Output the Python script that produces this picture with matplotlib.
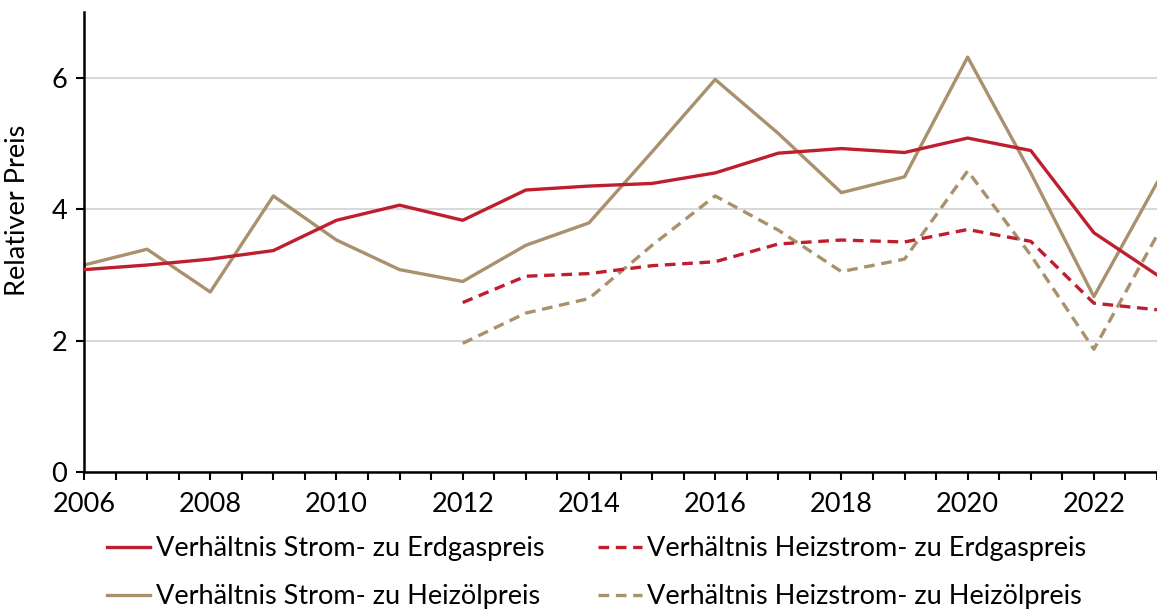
import numpy as np
import matplotlib.pyplot as plt
from matplotlib.lines import Line2D

plt.rcParams.update({
    "font.family": ["Lato", "DejaVu Sans"],
    "font.size": 19.5,
})

years = np.arange(2006, 2024)
strom_erdgas = [3.08, 3.15, 3.24, 3.37, 3.83, 4.06, 3.83, 4.29, 4.35, 4.39,
                4.55, 4.85, 4.92, 4.86, 5.08, 4.89, 3.64, 3.00]
strom_heizoel = [3.15, 3.39, 2.74, 4.20, 3.53, 3.08, 2.90, 3.45, 3.79, 4.87,
                 5.97, 5.15, 4.25, 4.49, 6.31, 4.55, 2.67, 4.40]
years_hs = np.arange(2012, 2024)
heizstrom_erdgas = [2.58, 2.98, 3.02, 3.14, 3.20, 3.47, 3.53, 3.50, 3.69, 3.51, 2.57, 2.47]
heizstrom_heizoel = [1.96, 2.42, 2.64, 3.45, 4.20, 3.68, 3.05, 3.24, 4.58, 3.30, 1.87, 3.60]

labels = ["Verhältnis Strom- zu Erdgaspreis",
          "Verhältnis Heizstrom- zu Erdgaspreis",
          "Verhältnis Strom- zu Heizölpreis",
          "Verhältnis Heizstrom- zu Heizölpreis"]

RED = "#BE1E2D"
TAN = "#A8916C"
LW = 2.4
DASH = (0, (3.2, 2))

fig = plt.figure(figsize=(11.57, 6.10), dpi=100)
ax = fig.add_axes([84 / 1157, 1 - 472.3 / 610, 1 - 84 / 1157, (472.3 - 11.7) / 610])

ax.plot(years, strom_erdgas, color=RED, lw=LW, zorder=3)
ax.plot(years, strom_heizoel, color=TAN, lw=LW, zorder=2)
ax.plot(years_hs, heizstrom_erdgas, color=RED, lw=LW, ls=DASH, zorder=3)
ax.plot(years_hs, heizstrom_heizoel, color=TAN, lw=LW, ls=DASH, zorder=2)

ax.set_xlim(2006, 2006 + (1157 - 83.3) / 63.6)
ax.set_ylim(0, 7)
ax.set_yticks([0, 2, 4, 6])
ax.set_xticks(np.arange(2006, 2023, 2))
ax.set_xticks(np.arange(2006, 2023.5, 0.5), minor=True)
ax.tick_params(axis="x", which="both", direction="out", length=6, width=1.5, pad=8)
ax.tick_params(axis="y", direction="out", length=6, width=1.5, pad=6)
ax.grid(axis="y", color="#D9D9D9", lw=1.5, zorder=0)
ax.set_axisbelow(True)
for s in ["top", "right"]:
    ax.spines[s].set_visible(False)
for s in ["left", "bottom"]:
    ax.spines[s].set_linewidth(1.8)

fig.text(18 / 1157, 1 - 210 / 610, "Relativer Preis", rotation=90,
         ha="center", va="center")

handles = [Line2D([], [], color=RED, lw=LW),
           Line2D([], [], color=TAN, lw=LW),
           Line2D([], [], color=RED, lw=LW, ls=DASH),
           Line2D([], [], color=TAN, lw=LW, ls=DASH)]
fig.legend(handles, [labels[0], labels[2], labels[1], labels[3]], ncol=2,
           loc="upper left", bbox_to_anchor=(107 / 1157, 1 - 536 / 610),
           frameon=False, handlelength=1.6, handletextpad=0.2,
           columnspacing=2.0, labelspacing=0.85, borderaxespad=0, borderpad=0)

fig.savefig("out.png", dpi=100)
